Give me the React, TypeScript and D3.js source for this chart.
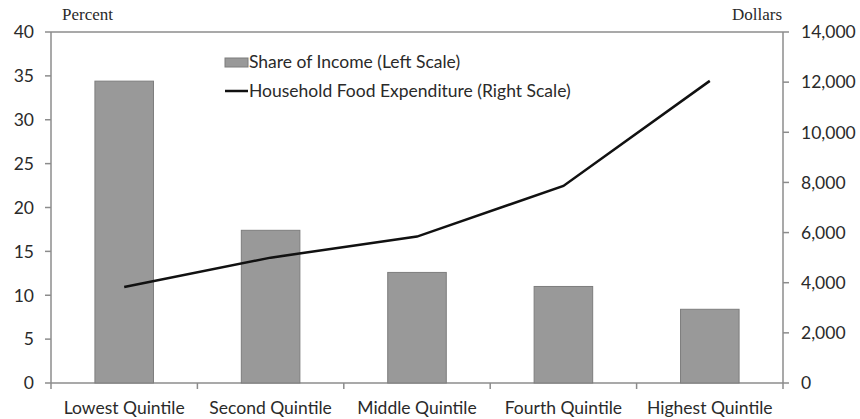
import React from "react";
import * as d3 from "d3";

const categories = ["Lowest Quintile", "Second Quintile", "Middle Quintile", "Fourth Quintile", "Highest Quintile"];
const shareOfIncome = [34.4, 17.4, 12.6, 11.0, 8.4];
const foodExpenditure = [3830, 5000, 5840, 7860, 12050];
const leftTicks = [0, 5, 10, 15, 20, 25, 30, 35, 40];
const rightTicks = [0, 2000, 4000, 6000, 8000, 10000, 12000, 14000];

const W = 860, H = 419;
const M = { left: 51, right: 783, top: 32, bottom: 383 };
const FONT = "Lato, 'Open Sans', sans-serif";
const AXIS = "#8c8c8c";
const TXT = "#2a2a2a";
const FS = 17.5;

export default function App() {
  const x = d3.scaleBand<string>().domain(categories).range([M.left, M.right]).paddingInner(0.6).paddingOuter(0.3);
  const xOuter = d3.scaleBand<string>().domain(categories).range([M.left, M.right]);
  const yL = d3.scaleLinear().domain([0, 40]).range([M.bottom, M.top]);
  const yR = d3.scaleLinear().domain([0, 14000]).range([M.bottom, M.top]);
  const line = d3.line<number>()
    .x((_, i) => (xOuter(categories[i]) as number) + xOuter.bandwidth() / 2)
    .y((d) => yR(d));
  const fmt = d3.format(",");
  const boundaries = categories.map((c) => xOuter(c) as number).concat([M.right]);

  return (
    <svg width={W} height={H} style={{ position: "absolute", left: 0, top: 0, background: "#fff" }}>
      <rect x={0} y={0} width={W} height={H} fill="#fff" />
      {/* frame */}
      <line x1={M.left} x2={M.right} y1={M.top} y2={M.top} stroke={AXIS} strokeWidth={1.5} />
      <line x1={M.left} x2={M.left} y1={M.top} y2={M.bottom} stroke={AXIS} strokeWidth={1.5} />
      <line x1={M.right} x2={M.right} y1={M.top} y2={M.bottom} stroke={AXIS} strokeWidth={1.5} />
      <line x1={M.left} x2={M.right} y1={M.bottom} y2={M.bottom} stroke={AXIS} strokeWidth={1.5} />
      {/* left ticks */}
      {leftTicks.map((t) => (
        <g key={"l" + t}>
          <line x1={M.left - 6} x2={M.left} y1={yL(t)} y2={yL(t)} stroke={AXIS} strokeWidth={1.5} />
          <text x={34} y={yL(t)} dy="0.36em" textAnchor="end" fontFamily={FONT} fontSize={FS} fill={TXT}>{t}</text>
        </g>
      ))}
      {/* right ticks */}
      {rightTicks.map((t) => (
        <g key={"r" + t}>
          <line x1={M.right} x2={M.right + 6} y1={yR(t)} y2={yR(t)} stroke={AXIS} strokeWidth={1.5} />
          <text x={801} y={yR(t)} dy="0.36em" textAnchor="start" fontFamily={FONT} fontSize={FS} fill={TXT}>{fmt(t)}</text>
        </g>
      ))}
      {/* bottom ticks */}
      {boundaries.map((b, i) => (
        <line key={"b" + i} x1={b} x2={b} y1={M.bottom} y2={M.bottom + 6} stroke={AXIS} strokeWidth={1.5} />
      ))}
      {categories.map((c) => (
        <text key={c} x={(xOuter(c) as number) + xOuter.bandwidth() / 2} y={414} textAnchor="middle" fontFamily={FONT} fontSize={FS} fill={TXT}>{c}</text>
      ))}
      {/* bars */}
      {categories.map((c, i) => (
        <rect key={"bar" + c} x={x(c)} y={yL(shareOfIncome[i])} width={x.bandwidth()} height={M.bottom - yL(shareOfIncome[i])} fill="#999999" stroke="#7d7d7d" strokeWidth={1} />
      ))}
      {/* line */}
      <path d={line(foodExpenditure) || ""} fill="none" stroke="#111" strokeWidth={2.5} />
      {/* axis titles */}
      <text x={62} y={20} fontFamily="'Liberation Serif', 'Times New Roman', serif" fontSize={17} fill={TXT}>Percent</text>
      <text x={782} y={20} textAnchor="end" fontFamily="'Liberation Serif', 'Times New Roman', serif" fontSize={17} fill={TXT}>Dollars</text>
      {/* legend */}
      <rect x={225} y={58} width={23} height={9} fill="#999999" stroke="#7d7d7d" />
      <text x={249} y={68} fontFamily={FONT} fontSize={FS} fill={TXT}>Share of Income (Left Scale)</text>
      <line x1={225} x2={248} y1={91} y2={91} stroke="#111" strokeWidth={2.5} />
      <text x={249} y={97} fontFamily={FONT} fontSize={FS} fill={TXT}>Household Food Expenditure (Right Scale)</text>
    </svg>
  );
}
